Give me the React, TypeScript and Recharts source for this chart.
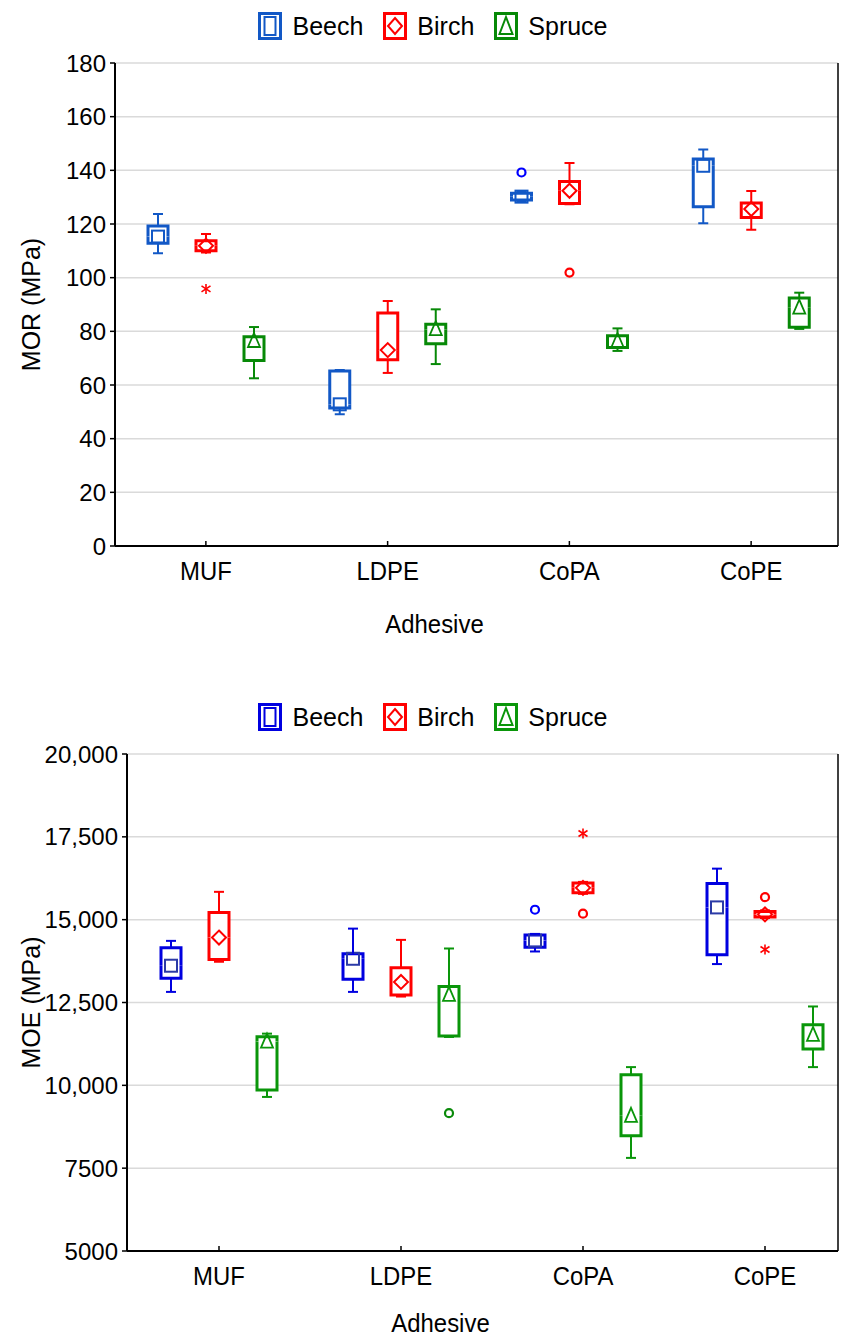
import React from 'react';
import { ComposedChart, Bar, XAxis, YAxis, CartesianGrid, Legend } from 'recharts';

const adhesives = ['MUF', 'LDPE', 'CoPA', 'CoPE'];
const species = ['Beech', 'Birch', 'Spruce'];

// per adhesive: [whisker low, box low, median, box high, whisker high]
const morBeech = [
  [109.1, 112.8, 115.3, 119.3, 123.7],
  [49.1, 51.4, 52.8, 65.2, 65.6],
  [128.3, 128.9, 130.2, 131.5, 132.0],
  [120.3, 126.4, 141.7, 144.2, 147.8],
];
const morBirch = [
  [109.4, 110.0, 111.9, 113.8, 116.3],
  [64.5, 69.4, 73.0, 86.8, 91.3],
  [127.4, 127.6, 132.4, 135.8, 142.7],
  [117.9, 122.4, 125.6, 127.8, 132.3],
];
const morSpruce = [
  [62.5, 69.1, 76.4, 78.0, 81.6],
  [67.8, 75.4, 80.8, 82.6, 88.2],
  [72.7, 74.0, 76.4, 78.4, 81.1],
  [80.9, 81.5, 88.8, 92.4, 94.4],
];
// single points beyond the whiskers: [value, 'o' outlier | '*' extreme]
const morBeechHigh = [null, null, [139.2, 'o'], null];
const morBirchLow = [[95.8, '*'], null, [101.9, 'o'], null];

const moeBeech = [
  [12820, 13230, 13610, 14150, 14360],
  [12820, 13200, 13820, 13970, 14730],
  [14040, 14170, 14370, 14540, 14570],
  [13660, 13940, 15370, 16090, 16540],
];
const moeBirch = [
  [13730, 13800, 14460, 15220, 15840],
  [12680, 12730, 13120, 13550, 14390],
  [15780, 15810, 15960, 16110, 16140],
  [15050, 15080, 15160, 15250, 15280],
];
const moeSpruce = [
  [9650, 9860, 11320, 11470, 11560],
  [11460, 11490, 12730, 12980, 14130],
  [7810, 8480, 9080, 10320, 10550],
  [10550, 11100, 11520, 11830, 12380],
];
const moeBeechHigh = [null, null, [15300, 'o'], null];
const moeBirchHigh = [null, null, [17600, '*'], [15680, 'o']];
const moeBirchLow = [null, null, [15180, 'o'], [14100, '*']];
const moeSpruceLow = [null, [9160, 'o'], null, null];

const morTicks = [0, 20, 40, 60, 80, 100, 120, 140, 160, 180];
const moeTicks = [5000, 7500, 10000, 12500, 15000, 17500, 20000];

const none = [null, null, null, null];
const FONT = "'Liberation Sans', Arial, sans-serif";

type Pt = [number, string] | null;

function buildRows(stats: number[][][], lows: Pt[][], highs: Pt[][]) {
  return adhesives.map((a, i) => {
    const row: any = { adhesive: a };
    species.forEach((s, k) => {
      const [mn, q1, md, q3, mx] = stats[k][i];
      const lo = lows[k][i];
      const hi = highs[k][i];
      row[`${s}_base`] = lo ? lo[0] : mn;
      row[`${s}_lo`] = lo ? mn - lo[0] : 0;
      row[`${s}_wl`] = q1 - mn;
      row[`${s}_bl`] = md - q1;
      row[`${s}_bh`] = q3 - md;
      row[`${s}_wh`] = mx - q3;
      row[`${s}_hi`] = hi ? hi[0] - mx : 0;
      row[`${s}_loPt`] = lo;
      row[`${s}_hiPt`] = hi;
    });
    return row;
  });
}

const morRows = buildRows([morBeech, morBirch, morSpruce], [none, morBirchLow, none], [morBeechHigh, none, none]);
const moeRows = buildRows(
  [moeBeech, moeBirch, moeSpruce],
  [none, moeBirchLow, moeSpruceLow],
  [moeBeechHigh, moeBirchHigh, none]
);

const topPal = {
  line: { Beech: '#1258c6', Birch: '#ff0000', Spruce: '#078907' },
  marker: { Beech: '#1258c6', Birch: '#ff0000', Spruce: '#078907' },
  point: { Beech: '#0000ff', Birch: '#ff0000', Spruce: '#078907' },
};
const bottomPal = {
  line: { Beech: '#0000e0', Birch: '#ff0000', Spruce: '#0a960a' },
  marker: { Beech: '#2b3aa6', Birch: '#ff0000', Spruce: '#0a960a' },
  point: { Beech: '#0000ff', Birch: '#ff0000', Spruce: '#0a8a0a' },
};

function Marker({ sp, cx, cy, color }: any) {
  if (sp === 'Beech')
    return <rect x={cx - 6} y={cy - 6} width={12} height={12} fill="none" stroke={color} strokeWidth={2} />;
  if (sp === 'Birch')
    return (
      <path
        d={`M${cx},${cy - 7}L${cx + 7},${cy}L${cx},${cy + 7}L${cx - 7},${cy}Z`}
        fill="none"
        stroke={color}
        strokeWidth={2}
      />
    );
  return (
    <path
      d={`M${cx},${cy - 8}L${cx + 6},${cy + 6}L${cx - 6},${cy + 6}Z`}
      fill="none"
      stroke={color}
      strokeWidth={1.8}
    />
  );
}

function Point({ kind, cx, cy, color }: any) {
  if (kind === '*') {
    return (
      <g stroke={color} strokeWidth={1.6}>
        <line x1={cx} y1={cy - 5} x2={cx} y2={cy + 5} />
        <line x1={cx - 4.5} y1={cy - 3} x2={cx + 4.5} y2={cy + 3} />
        <line x1={cx - 4.5} y1={cy + 3} x2={cx + 4.5} y2={cy - 3} />
      </g>
    );
  }
  return <circle cx={cx} cy={cy} r={4} fill="#fff" stroke={color} strokeWidth={2.2} />;
}

const makeShape = (sp: string, part: string, pal: any) => (props: any) => {
  const { x, y, width, height, payload } = props;
  const cx = x + width / 2;
  const top = y;
  const bot = y + height;
  const c = pal.line[sp];
  switch (part) {
    case 'lo': {
      const pt = payload[`${sp}_loPt`];
      return pt ? <Point kind={pt[1]} cx={cx} cy={bot} color={pal.point[sp]} /> : <g />;
    }
    case 'hi': {
      const pt = payload[`${sp}_hiPt`];
      return pt ? <Point kind={pt[1]} cx={cx} cy={top} color={pal.point[sp]} /> : <g />;
    }
    case 'wl':
      return (
        <g stroke={c} strokeWidth={2}>
          <line x1={cx} y1={top} x2={cx} y2={bot} />
          <line x1={cx - 5} y1={bot} x2={cx + 5} y2={bot} />
        </g>
      );
    case 'wh':
      return (
        <g stroke={c} strokeWidth={2}>
          <line x1={cx} y1={top} x2={cx} y2={bot} />
          <line x1={cx - 5} y1={top} x2={cx + 5} y2={top} />
        </g>
      );
    case 'bl':
      return (
        <path
          d={`M${x},${top}L${x},${bot}L${x + width},${bot}L${x + width},${top}`}
          fill="#fff"
          stroke={c}
          strokeWidth={3}
        />
      );
    case 'bh':
      return (
        <g>
          <path
            d={`M${x},${bot}L${x},${top}L${x + width},${top}L${x + width},${bot}`}
            fill="#fff"
            stroke={c}
            strokeWidth={3}
          />
          <Marker sp={sp} cx={cx} cy={bot} color={pal.marker[sp]} />
        </g>
      );
    default:
      return <g />;
  }
};

function LegendIcon({ sp, color }: any) {
  let inner;
  if (sp === 'Beech') inner = <rect x={6.5} y={5} width={11} height={18} fill="none" stroke={color} strokeWidth={2} />;
  else if (sp === 'Birch') inner = <path d="M12,6L19,14L12,22L5,14Z" fill="none" stroke={color} strokeWidth={2} />;
  else inner = <path d="M12,5L18.5,22L5.5,22Z" fill="none" stroke={color} strokeWidth={2} />;
  return (
    <svg width={24} height={28} style={{ display: 'block' }}>
      <rect x={1.5} y={1.5} width={21} height={25} fill="#fff" stroke={color} strokeWidth={3} />
      {inner}
    </svg>
  );
}

const makeLegend = (pal: any) => () => (
  <div
    style={{
      height: 63,
      boxSizing: 'border-box',
      paddingTop: 12,
      paddingLeft: 42,
      display: 'flex',
      justifyContent: 'center',
      alignItems: 'flex-start',
      fontFamily: FONT,
      fontSize: 25,
      color: '#000',
    }}
  >
    {species.map((s) => (
      <div key={s} style={{ display: 'flex', alignItems: 'center', marginRight: 20, height: 28 }}>
        <LegendIcon sp={s} color={pal.line[s]} />
        <span style={{ marginLeft: 10, lineHeight: '28px' }}>{s}</span>
      </div>
    ))}
  </div>
);

// slightly condensed category text, as in the original figure
const CategoryTick = ({ x, y, payload }: any) => (
  <text
    transform={`translate(${x},${y}) scale(0.92,1)`}
    textAnchor="middle"
    dy="0.71em"
    fontSize={26}
    fill="#000"
    fontFamily={FONT}
  >
    {payload.value}
  </text>
);

const makeAxisTitle = (offset: number) => ({ viewBox }: any) => {
  const x = viewBox.x + viewBox.width / 2 - 42;
  const y = viewBox.y + viewBox.height - offset;
  return (
    <text transform={`translate(${x},${y}) scale(0.92,1)`} textAnchor="middle" fontSize={26} fill="#000" fontFamily={FONT}>
      Adhesive
    </text>
  );
};

const parts = ['base', 'lo', 'wl', 'bl', 'bh', 'wh', 'hi'];

function BoxChart({ rows, pal, height, domain, ticks, fmt, yLabel, yWidth, xHeight, padding, labelOffset }: any) {
  return (
    <ComposedChart
      width={844}
      height={height}
      data={rows}
      margin={{ top: 0, right: 0, bottom: 0, left: 0 }}
      barSize={20}
      barGap={28}
    >
      <Legend verticalAlign="top" content={makeLegend(pal)} wrapperStyle={{ top: 0, left: 0, width: 844 }} />
      <CartesianGrid vertical={false} stroke="#dadada" strokeWidth={1.5} />
      <XAxis
        dataKey="adhesive"
        height={xHeight}
        padding={padding}
        axisLine={{ stroke: '#000', strokeWidth: 2 }}
        tickLine={{ stroke: '#000', strokeWidth: 1.5 }}
        tickSize={-5}
        tickMargin={21}
        tick={<CategoryTick />}
        label={{ content: makeAxisTitle(labelOffset) }}
      />
      <XAxis
        xAxisId="frame"
        dataKey="adhesive"
        orientation="top"
        height={0}
        tick={false}
        tickLine={false}
        axisLine={{ stroke: '#000', strokeWidth: 1.5 }}
      />
      <YAxis
        type="number"
        domain={domain}
        ticks={ticks}
        allowDataOverflow
        width={yWidth}
        interval={0}
        tickFormatter={fmt}
        axisLine={{ stroke: '#000', strokeWidth: 2 }}
        tickLine={{ stroke: '#000', strokeWidth: 1.5 }}
        tickSize={5}
        tickMargin={4}
        tick={{ fontSize: 24, fill: '#000', fontFamily: FONT }}
        label={{
          value: yLabel,
          angle: -90,
          position: 'insideLeft',
          offset: 31,
          style: { textAnchor: 'middle', fontSize: 25, fill: '#000', fontFamily: FONT },
        }}
      />
      <YAxis
        yAxisId="r"
        orientation="right"
        type="number"
        domain={domain}
        ticks={ticks}
        allowDataOverflow
        width={6}
        interval={0}
        tick={false}
        tickSize={4}
        axisLine={{ stroke: '#000', strokeWidth: 1.5 }}
        tickLine={{ stroke: '#000', strokeWidth: 1.5 }}
      />
      {species.map((s) =>
        parts.map((p) => (
          <Bar
            key={`${s}_${p}`}
            dataKey={`${s}_${p}`}
            stackId={s}
            isAnimationActive={false}
            fill="none"
            shape={makeShape(s, p, pal)}
          />
        ))
      )}
    </ComposedChart>
  );
}

const fmtMoe = (v: number) => (v >= 10000 ? v.toLocaleString('en-US') : String(v));

export default function App() {
  return (
    <div style={{ position: 'absolute', left: 0, top: 0, width: 844, height: 1340, background: '#fff' }}>
      <div style={{ position: 'absolute', left: 0, top: 0 }}>
        <BoxChart
          rows={morRows}
          pal={topPal}
          height={660}
          domain={[0, 180]}
          ticks={morTicks}
          fmt={(v: number) => String(v)}
          yLabel="MOR (MPa)"
          yWidth={115}
          xHeight={114}
          padding={{ left: 0, right: -4 }}
          labelOffset={27}
        />
      </div>
      <div style={{ position: 'absolute', left: 0, top: 691 }}>
        <BoxChart
          rows={moeRows}
          pal={bottomPal}
          height={649}
          domain={[5000, 20000]}
          ticks={moeTicks}
          fmt={fmtMoe}
          yLabel="MOE (MPa)"
          yWidth={127}
          xHeight={89}
          padding={{ left: 1, right: -18 }}
          labelOffset={8}
        />
      </div>
    </div>
  );
}
